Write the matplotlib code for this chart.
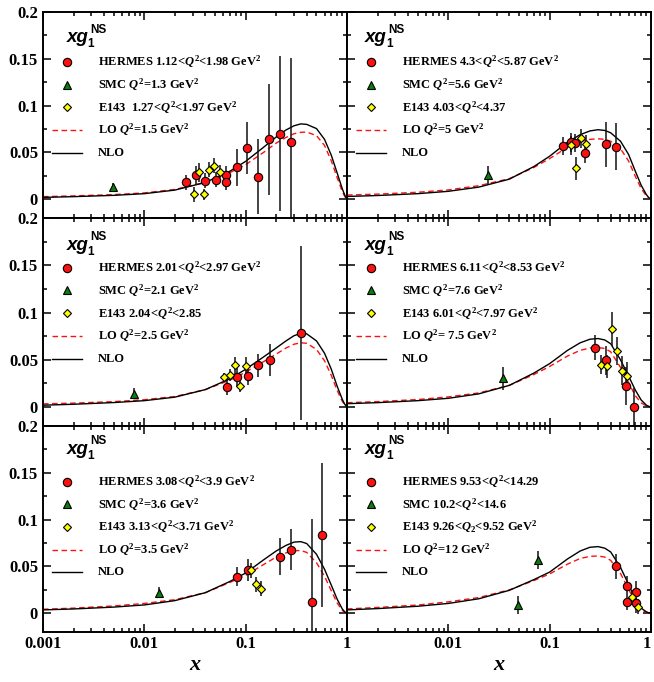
import matplotlib
matplotlib.use("Agg")
import matplotlib.pyplot as plt
from matplotlib.ticker import MultipleLocator, FuncFormatter, NullFormatter, LogLocator

plt.rcParams['font.family'] = 'Liberation Serif'
plt.rcParams['font.weight'] = 'bold'
plt.rcParams['mathtext.fontset'] = 'custom'
plt.rcParams['mathtext.rm'] = 'Liberation Serif:bold'
plt.rcParams['mathtext.it'] = 'Liberation Serif:italic:bold'
plt.rcParams['mathtext.bf'] = 'Liberation Serif:bold'

# panels ordered row by row: (top-left, top-right, mid-left, mid-right, bottom-left, bottom-right)
hermes_x = [
    [0.026, 0.0326, 0.040, 0.0506, 0.0644, 0.0644, 0.082, 0.1037, 0.133, 0.171, 0.218, 0.278],
    [0.135, 0.164, 0.177, 0.221, 0.356, 0.453],
    [0.0655, 0.082, 0.105, 0.133, 0.172, 0.354],
    [0.279, 0.356, 0.567, 0.68],
    [0.0828, 0.105, 0.22, 0.278, 0.452, 0.566],
    [0.453, 0.58, 0.58, 0.718, 0.718],
]
hermes_y = [
    [0.018, 0.0254, 0.020, 0.0207, 0.0254, 0.018, 0.034, 0.0546, 0.024, 0.064, 0.070, 0.0607],
    [0.057, 0.061, 0.060, 0.049, 0.059, 0.056],
    [0.0214, 0.0314, 0.0332, 0.044, 0.050, 0.078],
    [0.0629, 0.0493, 0.0225, 0.0004],
    [0.039, 0.046, 0.0605, 0.068, 0.0125, 0.0836],
    [0.050, 0.0295, 0.0117, 0.0224, 0.0107],
]
hermes_err = [
    [0.008, 0.010, 0.008, 0.008, 0.010, 0.008, 0.020, 0.028, 0.040, 0.059, 0.083, 0.090],
    [0.010, 0.010, 0.010, 0.010, 0.024, 0.025],
    [0.009, 0.010, 0.010, 0.012, 0.017, 0.092],
    [0.013, 0.015, 0.020, 0.020],
    [0.010, 0.012, 0.020, 0.022, 0.088, 0.077],
    [0.013, 0.010, 0.008, 0.012, 0.010],
]

smc_x = [[0.0049], [0.0249], [0.0079], [0.0348], [0.014], [0.0492, 0.0767]]
smc_y = [[0.013], [0.0257], [0.0143], [0.0304], [0.022], [0.0089, 0.057]]
smc_err = [[0.004], [0.010], [0.006], [0.012], [0.006], [0.010, 0.010]]

e143_x = [
    [0.0309, 0.0346, 0.0388, 0.0435, 0.0487, 0.0554],
    [0.161, 0.180, 0.205, 0.230],
    [0.061, 0.0695, 0.079, 0.0886, 0.100],
    [0.324, 0.366, 0.413, 0.463, 0.519, 0.585],
    [0.112, 0.127, 0.143],
    [0.65, 0.74],
]
e143_y = [
    [0.0054, 0.0286, 0.0054, 0.0314, 0.0357, 0.0296],
    [0.0575, 0.033, 0.065, 0.059],
    [0.0314, 0.034, 0.044, 0.0218, 0.043],
    [0.0446, 0.043, 0.083, 0.059, 0.0386, 0.033],
    [0.046, 0.031, 0.026],
    [0.017, 0.0071],
]
e143_err = [
    [0.008, 0.010, 0.006, 0.008, 0.008, 0.007],
    [0.010, 0.012, 0.010, 0.010],
    [0.005, 0.006, 0.009, 0.006, 0.010],
    [0.010, 0.012, 0.018, 0.015, 0.015, 0.015],
    [0.008, 0.008, 0.008],
    [0.008, 0.008],
]

curve_x = [0.001, 0.002, 0.005, 0.01, 0.02, 0.04, 0.07, 0.1, 0.15, 0.2, 0.25,
           0.3, 0.35, 0.4, 0.5, 0.6, 0.7, 0.8, 0.9, 0.95, 1.0]
nlo_y = [
    [0.0020, 0.0028, 0.0042, 0.0060, 0.0098, 0.0180, 0.0300, 0.0405, 0.0555, 0.0665, 0.0740,
     0.0785, 0.0805, 0.0800, 0.0755, 0.0640, 0.0470, 0.0280, 0.0110, 0.0045, 0.0],
    [0.0030, 0.0040, 0.0060, 0.0085, 0.0130, 0.0215, 0.0350, 0.0460, 0.0610, 0.0690, 0.0730,
     0.0743, 0.0735, 0.0710, 0.0620, 0.0480, 0.0300, 0.0150, 0.0050, 0.0018, 0.0],
    [0.0020, 0.0030, 0.0048, 0.0068, 0.0105, 0.0185, 0.0300, 0.0400, 0.0530, 0.0625, 0.0700,
     0.0755, 0.0780, 0.0775, 0.0700, 0.0570, 0.0400, 0.0220, 0.0080, 0.0030, 0.0],
    [0.0036, 0.0047, 0.0068, 0.0093, 0.0140, 0.0230, 0.0360, 0.0460, 0.0600, 0.0680, 0.0718,
     0.0725, 0.0710, 0.0670, 0.0500, 0.0330, 0.0180, 0.0075, 0.0020, 0.0008, 0.0],
    [0.0036, 0.0046, 0.0066, 0.0089, 0.0135, 0.0220, 0.0340, 0.0430, 0.0570, 0.0665, 0.0725,
     0.0760, 0.0765, 0.0745, 0.0630, 0.0470, 0.0300, 0.0150, 0.0045, 0.0015, 0.0],
    [0.0036, 0.0050, 0.0075, 0.0105, 0.0155, 0.0245, 0.0360, 0.0440, 0.0580, 0.0665, 0.0705,
     0.0712, 0.0695, 0.0655, 0.0490, 0.0310, 0.0150, 0.0055, 0.0015, 0.0005, 0.0],
]
lo_y = [
    [0.0028, 0.0036, 0.0050, 0.0068, 0.0105, 0.0180, 0.0285, 0.0370, 0.0500, 0.0600, 0.0660,
     0.0700, 0.0715, 0.0718, 0.0680, 0.0575, 0.0410, 0.0230, 0.0080, 0.0030, 0.0],
    [0.0045, 0.0055, 0.0075, 0.0100, 0.0145, 0.0220, 0.0340, 0.0435, 0.0555, 0.0615, 0.0640,
     0.0646, 0.0640, 0.0620, 0.0540, 0.0410, 0.0245, 0.0115, 0.0035, 0.0012, 0.0],
    [0.0034, 0.0042, 0.0058, 0.0078, 0.0112, 0.0185, 0.0285, 0.0370, 0.0480, 0.0560, 0.0625,
     0.0665, 0.0680, 0.0675, 0.0610, 0.0490, 0.0335, 0.0175, 0.0060, 0.0022, 0.0],
    [0.0046, 0.0058, 0.0080, 0.0108, 0.0150, 0.0230, 0.0345, 0.0430, 0.0540, 0.0600, 0.0625,
     0.0630, 0.0620, 0.0585, 0.0420, 0.0260, 0.0120, 0.0045, 0.0012, 0.0005, 0.0],
    [0.0043, 0.0055, 0.0078, 0.0105, 0.0145, 0.0220, 0.0330, 0.0405, 0.0520, 0.0600, 0.0645,
     0.0668, 0.0670, 0.0650, 0.0540, 0.0395, 0.0240, 0.0110, 0.0030, 0.0010, 0.0],
    [0.0046, 0.0062, 0.0088, 0.0122, 0.0168, 0.0250, 0.0350, 0.0420, 0.0525, 0.0585, 0.0608,
     0.0612, 0.0600, 0.0565, 0.0425, 0.0260, 0.0115, 0.0040, 0.0010, 0.0004, 0.0],
]

labels = [
    [r"HERMES 1.12<$Q^2$<1.98 GeV$^2$", r"SMC $Q^2$=1.3 GeV$^2$", r"E143  1.27<$Q^2$<1.97 GeV$^2$",
     r"LO $Q^2$=1.5 GeV$^2$", "NLO"],
    [r"HERMES 4.3<$Q^2$<5.87 GeV$^2$", r"SMC $Q^2$=5.6 GeV$^2$", r"E143 4.03<$Q^2$<4.37",
     r"LO $Q^2$=5 GeV$^2$", "NLO"],
    [r"HERMES 2.01<$Q^2$<2.97 GeV$^2$", r"SMC $Q^2$=2.1 GeV$^2$", r"E143 2.04<$Q^2$<2.85",
     r"LO $Q^2$=2.5 GeV$^2$", "NLO"],
    [r"HERMES 6.11<$Q^2$<8.53 GeV$^2$", r"SMC $Q^2$=7.6 GeV$^2$", r"E143 6.01<$Q^2$<7.97 GeV$^2$",
     r"LO $Q^2$= 7.5 GeV$^2$", "NLO"],
    [r"HERMES 3.08<$Q^2$<3.9 GeV$^2$", r"SMC $Q^2$=3.6 GeV$^2$", r"E143 3.13<$Q^2$<3.71 GeV$^2$",
     r"LO $Q^2$=3.5 GeV$^2$", "NLO"],
    [r"HERMES 9.53<$Q^2$<14.29", r"SMC 10.2<$Q^2$<14.6", r"E143 9.26<$Q_2$<9.52 GeV$^2$",
     r"LO $Q^2$=12 GeV$^2$", "NLO"],
]

W, H = 654, 682
fig = plt.figure(figsize=(W / 100, H / 100), dpi=100)

col_left = [43, 347]
col_width = 304
row_top = [12, 218, 426]
row_height = [206, 208, 206]
legend_top = [0.757, 0.762, 0.73]
title_base = [0.853, 0.848, 0.866]

red, green, yellow = '#ff1010', '#0a7d0a', '#ffff00'
styles = [
    dict(marker='o', ms=6, mfc=red, mec='black', mew=0.8, ls='none'),
    dict(marker='^', ms=6, mfc=green, mec='black', mew=0.8, ls='none'),
    dict(marker='D', ms=4.5, mfc=yellow, mec='black', mew=0.8, ls='none'),
    dict(color=red, ls=(0, (4, 2.5)), lw=1.0),
    dict(color='black', lw=1.0),
]

for i in range(6):
    row, col = i // 2, i % 2
    ax = fig.add_axes([col_left[col] / W, (H - row_top[row] - row_height[row]) / H,
                       col_width / W, row_height[row] / H])
    ax.set_xscale('log')
    ax.set_xlim(0.001, 1)
    ax.set_ylim(-0.02, 0.2)

    ax.plot(curve_x, lo_y[i], **styles[3])
    ax.plot(curve_x, nlo_y[i], **styles[4])
    for xs, ys, es, st in [(hermes_x[i], hermes_y[i], hermes_err[i], styles[0]),
                           (smc_x[i], smc_y[i], smc_err[i], styles[1]),
                           (e143_x[i], e143_y[i], e143_err[i], styles[2])]:
        ax.errorbar(xs, ys, yerr=es, ecolor='#111111', elinewidth=1.1, capsize=0, **st)

    # legend drawn by hand
    for k in range(5):
        yk = legend_top[row] - 0.11 * k
        if k < 3:
            ax.plot([0.08], [yk], transform=ax.transAxes, clip_on=False, **styles[k])
        else:
            ax.plot([0.03, 0.128], [yk, yk], transform=ax.transAxes, **styles[k])
        ax.text(0.18, yk, labels[i][k], transform=ax.transAxes, fontsize=9,
                va='center', ha='left')

    # xg_1^NS label
    tx = 0.077 if col == 0 else 0.058
    yb = title_base[row]
    sans = dict(family='Liberation Sans', weight='bold', transform=ax.transAxes)
    ax.text(tx, yb, 'xg', fontsize=13.5, style='italic', va='baseline', **sans)
    ax.text(tx + 0.07, yb - 0.025, '1', fontsize=8.5, va='baseline', **sans)
    ax.text(tx + 0.078, yb + 0.047, 'NS', fontsize=8.5, va='baseline', **sans)

    ax.yaxis.set_major_locator(MultipleLocator(0.05))
    ax.yaxis.set_minor_locator(MultipleLocator(0.025))
    ax.yaxis.set_major_formatter(FuncFormatter(lambda v, p: f'{v:g}'))
    ax.xaxis.set_major_locator(LogLocator(base=10))
    ax.xaxis.set_minor_locator(LogLocator(base=10, subs=range(2, 10)))
    ax.xaxis.set_minor_formatter(NullFormatter())
    if col == 0:
        ax.xaxis.set_major_formatter(FuncFormatter(lambda v, p: f'{v:g}'))
    else:
        ax.xaxis.set_major_formatter(FuncFormatter(lambda v, p: '' if v < 0.005 else f'{v:g}'))

    ax.tick_params(which='both', direction='in', top=True, right=True, width=1.1,
                   labelsize=12)
    ax.tick_params(which='major', length=5.8)
    ax.tick_params(which='minor', length=2.9)
    ax.tick_params(axis='y', pad=3.6)
    ax.tick_params(axis='x', pad=3.2)
    ax.tick_params(labelleft=(col == 0), labelbottom=(row == 2))
    for s in ax.spines.values():
        s.set_linewidth(1.4)
    if row == 2:
        ax.set_xlabel('x', fontsize=16, style='italic', fontweight='bold', labelpad=2)
        if col == 1:
            # keep the last "1" inside the figure edge
            fig.canvas.draw()
            for lab in ax.get_xticklabels():
                if lab.get_text() == '1':
                    lab.set_horizontalalignment('right')

fig.savefig('out.png', dpi=100)
